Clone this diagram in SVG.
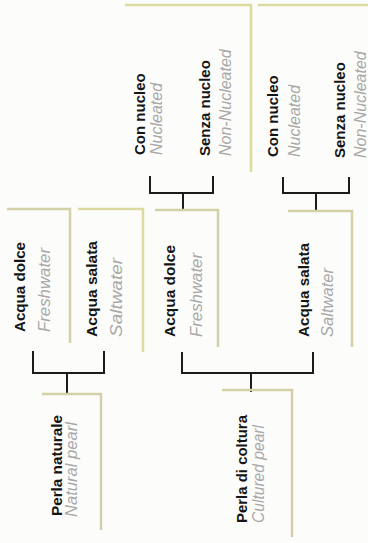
<svg xmlns="http://www.w3.org/2000/svg" width="368" height="543" viewBox="0 0 368 543">
<style>
.bg{fill:#fcfcfa}
.panel{fill:none;stroke:#d3d0a8;stroke-width:2.5}
.panel2{fill:none;stroke:#dcda9e;stroke-width:2.5}
.conn{fill:none;stroke:#1c1c1c;stroke-width:2;stroke-linecap:square}
.t{font-family:"Liberation Sans",Arial,sans-serif;font-weight:bold;font-size:15px;fill:#151515}
.s{font-family:"Liberation Sans",Arial,sans-serif;font-style:italic;font-size:16px;fill:#a8a8a8}
</style>
<rect class="bg" x="0" y="0" width="368" height="543"/>

<g id="connectors">
  <path class="conn" d="M33,352 V373 H104 V352 M67,373 V394"/>
  <path class="conn" d="M182,353 V373 H313 V353 M251,373 V391"/>
  <path class="conn" d="M150,177 V193 H213 V177 M183,193 V210"/>
  <path class="conn" d="M283,178 V193 H349 V178 M316,193 V211"/>
</g>

<g id="top-panels">
  <path class="panel2" d="M125,5 H251 V172"/>
  <path class="panel2" d="M258,5 H368"/>
</g>

<g id="fw-con-nucleo">
  <text class="t" transform="translate(145,155) rotate(-90)">Con nucleo</text>
  <text class="s" transform="translate(162,155) rotate(-90)">Nucleated</text>
</g>
<g id="fw-senza-nucleo">
  <text class="t" transform="translate(210,156) rotate(-90)">Senza nucleo</text>
  <text class="s" transform="translate(231,156) rotate(-90)">Non-Nucleated</text>
</g>
<g id="sw-con-nucleo">
  <text class="t" transform="translate(278,157) rotate(-90)">Con nucleo</text>
  <text class="s" transform="translate(300,157) rotate(-90)">Nucleated</text>
</g>
<g id="sw-senza-nucleo">
  <text class="t" transform="translate(345,158) rotate(-90)">Senza nucleo</text>
  <text class="s" transform="translate(366,158) rotate(-90)">Non-Nucleated</text>
</g>

<g id="natural-acqua-dolce">
  <path class="panel" d="M7,209 H70 V343"/>
  <text class="t" transform="translate(25,332) rotate(-90)" textLength="90" lengthAdjust="spacingAndGlyphs">Acqua dolce</text>
  <text class="s" transform="translate(50,332) rotate(-90)" textLength="84" lengthAdjust="spacingAndGlyphs">Freshwater</text>
</g>
<g id="natural-acqua-salata">
  <path class="panel2" d="M78,209 H143 V352"/>
  <text class="t" transform="translate(97,337) rotate(-90)" textLength="96" lengthAdjust="spacingAndGlyphs">Acqua salata</text>
  <text class="s" transform="translate(122,337) rotate(-90)" textLength="79" lengthAdjust="spacingAndGlyphs">Saltwater</text>
</g>
<g id="perla-naturale">
  <path class="panel" d="M42,394 H101 V530"/>
  <text class="t" transform="translate(62,516) rotate(-90)" textLength="101" lengthAdjust="spacingAndGlyphs">Perla naturale</text>
  <text class="s" transform="translate(77,517) rotate(-90)" textLength="95" lengthAdjust="spacingAndGlyphs">Natural pearl</text>
</g>

<g id="cultured-acqua-dolce">
  <path class="panel" d="M155,210 H218 V347"/>
  <text class="t" transform="translate(175,337) rotate(-90)" textLength="92" lengthAdjust="spacingAndGlyphs">Acqua dolce</text>
  <text class="s" transform="translate(202,337) rotate(-90)" textLength="84" lengthAdjust="spacingAndGlyphs">Freshwater</text>
</g>
<g id="cultured-acqua-salata">
  <path class="panel" d="M288,211 H352 V347"/>
  <text class="t" transform="translate(309,337) rotate(-90)" textLength="94" lengthAdjust="spacingAndGlyphs">Acqua salata</text>
  <text class="s" transform="translate(333,337) rotate(-90)" textLength="69" lengthAdjust="spacingAndGlyphs">Saltwater</text>
</g>
<g id="perla-di-coltura">
  <path class="panel" d="M222,390 H292 V537"/>
  <text class="t" transform="translate(247,523) rotate(-90)" textLength="108" lengthAdjust="spacingAndGlyphs">Perla di coltura</text>
  <text class="s" transform="translate(264,523) rotate(-90)" textLength="98" lengthAdjust="spacingAndGlyphs">Cultured pearl</text>
</g>
</svg>
